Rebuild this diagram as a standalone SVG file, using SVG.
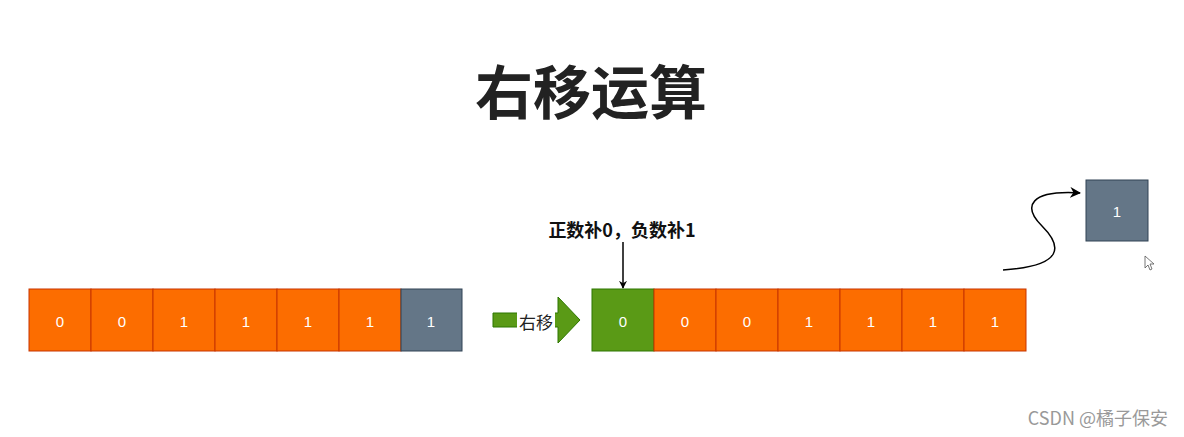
<svg xmlns="http://www.w3.org/2000/svg" width="1184" height="437" viewBox="0 0 1184 437">
<defs>
<style>
.o{fill:#fc6d00;stroke:#c73500;stroke-width:1}
.g{fill:#647687;stroke:#314354;stroke-width:1}
.gr{fill:#5a9a16;stroke:#2d7600;stroke-width:1}
.t{font-family:"Liberation Sans",Arial,sans-serif;font-size:15px;fill:#ffffff;text-anchor:middle;dominant-baseline:central}
.cjk{font-family:"Noto Sans CJK SC",sans-serif}
</style>
<marker id="ah" viewBox="0 0 10 10" refX="9" refY="5" markerWidth="8" markerHeight="8" markerUnits="userSpaceOnUse" orient="auto">
<path d="M0,0 L10,5 L0,10 L3,5 Z" fill="#000"/>
</marker>
<marker id="ah2" viewBox="0 0 10 10" refX="9" refY="5" markerWidth="11" markerHeight="11" markerUnits="userSpaceOnUse" orient="auto">
<path d="M0,0 L10,5 L0,10 L3,5 Z" fill="#000"/>
</marker>
</defs>
<rect width="1184" height="437" fill="#ffffff"/>
<text id="title" x="591" y="114" class="cjk" font-size="58" font-weight="bold" fill="#222222" text-anchor="middle">右移运算</text>

<g id="left-row">
<g id="l0"><rect class="o" x="29" y="289" width="62" height="62"/><text class="t" x="60" y="321">0</text></g>
<g id="l1"><rect class="o" x="91" y="289" width="62" height="62"/><text class="t" x="122" y="321">0</text></g>
<g id="l2"><rect class="o" x="153" y="289" width="62" height="62"/><text class="t" x="184" y="321">1</text></g>
<g id="l3"><rect class="o" x="215" y="289" width="62" height="62"/><text class="t" x="246" y="321">1</text></g>
<g id="l4"><rect class="o" x="277" y="289" width="62" height="62"/><text class="t" x="308" y="321">1</text></g>
<g id="l5"><rect class="o" x="339" y="289" width="62" height="62"/><text class="t" x="370" y="321">1</text></g>
<g id="l6"><rect class="g" x="401" y="289" width="61" height="62"/><text class="t" x="431" y="321">1</text></g>
</g>

<g id="shift-arrow">
<path d="M493,313 L558,313 L558,297 L580,320 L558,343 L558,327 L493,327 Z" class="gr"/>
<rect x="517" y="310" width="38" height="21" fill="#ffffff"/>
<text x="536" y="321" class="cjk" font-size="17" fill="#222" text-anchor="middle" dominant-baseline="central">右移</text>
</g>

<g id="right-row">
<g id="r0"><rect class="gr" x="592" y="289" width="62" height="62"/><text class="t" x="623" y="321">0</text></g>
<g id="r1"><rect class="o" x="654" y="289" width="62" height="62"/><text class="t" x="685" y="321">0</text></g>
<g id="r2"><rect class="o" x="716" y="289" width="62" height="62"/><text class="t" x="747" y="321">0</text></g>
<g id="r3"><rect class="o" x="778" y="289" width="62" height="62"/><text class="t" x="809" y="321">1</text></g>
<g id="r4"><rect class="o" x="840" y="289" width="62" height="62"/><text class="t" x="871" y="321">1</text></g>
<g id="r5"><rect class="o" x="902" y="289" width="62" height="62"/><text class="t" x="933" y="321">1</text></g>
<g id="r6"><rect class="o" x="964" y="289" width="62" height="62"/><text class="t" x="995" y="321">1</text></g>
</g>

<g id="fill-label">
<text x="622" y="229" class="cjk" font-size="18" font-weight="bold" fill="#111" text-anchor="middle" dominant-baseline="central">正数补0，负数补1</text>
</g>

<g id="dropped">
<rect class="g" x="1086" y="180" width="62" height="61"/><text class="t" x="1117" y="211">1</text>
</g>

<g id="connectors" fill="none" stroke="#000" stroke-width="1.5">
<line x1="623" y1="242" x2="623" y2="288" marker-end="url(#ah)"/>
<path d="M1003,270 C1065,266 1062,246 1042,226 C1022,206 1030,190 1080,193" marker-end="url(#ah2)"/>
</g>

<path id="cursor" d="M1145,256 L1145,268 L1148,265 L1150,270 L1152,269 L1150,264 L1154,264 Z" fill="#fff" stroke="#555" stroke-width="0.8"/>

<text id="watermark" x="1168" y="417" class="cjk" font-size="18" fill="#999" text-anchor="end" dominant-baseline="central">CSDN @橘子保安</text>
</svg>
